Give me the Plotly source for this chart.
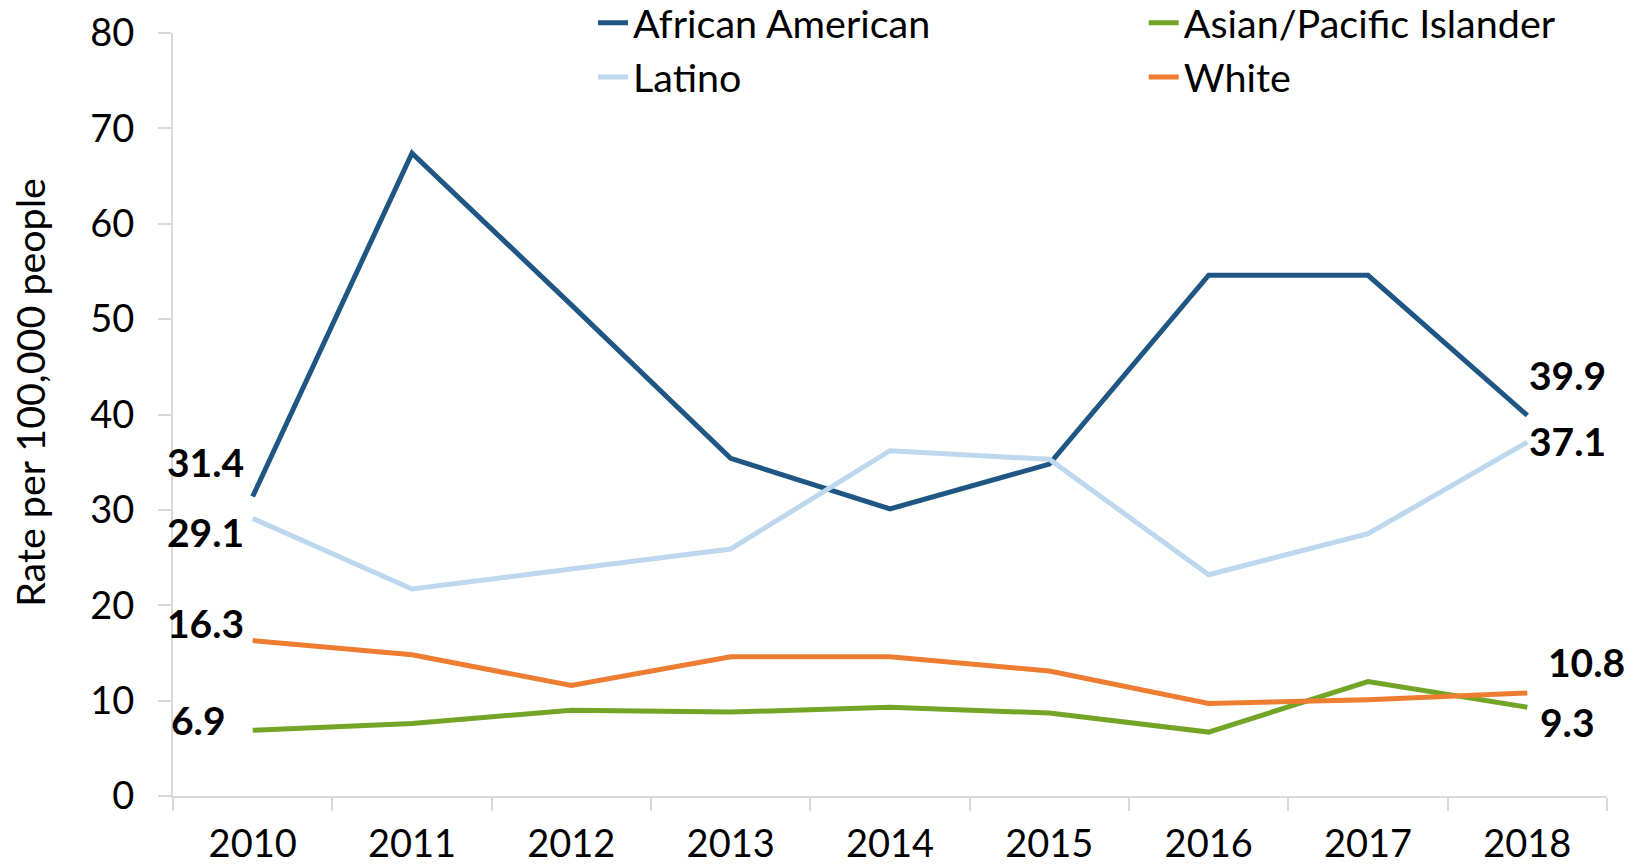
import plotly.graph_objects as go

years = ["2010", "2011", "2012", "2013", "2014", "2015", "2016", "2017", "2018"]
african_american = [31.4, 67.4, 51.5, 35.4, 30.1, 34.8, 54.6, 54.6, 39.9]
asian_pi = [6.9, 7.6, 9.0, 8.8, 9.3, 8.7, 6.7, 12.0, 9.3]
latino = [29.1, 21.7, 23.8, 25.9, 36.2, 35.3, 23.2, 27.5, 37.1]
white = [16.3, 14.8, 11.6, 14.6, 14.6, 13.1, 9.7, 10.1, 10.8]

series = [
    ("African American", african_american, "#1F5683", "legend"),
    ("Asian/Pacific Islander", asian_pi, "#72A526", "legend2"),
    ("Latino", latino, "#BDD7EE", "legend"),
    ("White", white, "#ED7D31", "legend2"),
]

FONT = "Lato, Carlito, Calibri, sans-serif"

fig = go.Figure()
for name, vals, color, leg in series:
    fig.add_trace(go.Scatter(x=years, y=vals, name=name, mode="lines",
                             legend=leg, legendgroup=name,
                             line=dict(color=color, width=5)))

# end-point labels: (series values, index, xshift, yshift)
labels = [
    (african_american, 0, -47, 35),
    (latino, 0, -47, -14),
    (white, 0, -47, 18),
    (asian_pi, 0, -54, 10),
    (african_american, 8, 40, 40),
    (latino, 8, 40, 1),
    (white, 8, 59, 31),
    (asian_pi, 8, 40, -15),
]
for vals, i, dx, dy in labels:
    fig.add_annotation(x=i, y=vals[i], text=f"<b>{vals[i]:.1f}</b>",
                       showarrow=False, xshift=dx, yshift=dy,
                       font=dict(family=FONT, size=39, color="black"))

# geometry (figure coordinates)
L, R, T, B = 164.8, 42.5, 24.5, 79
PW = 1642 - L - R
PH = 867 - T - B

# y-axis title
fig.add_annotation(xref="paper", yref="paper", x=(21 - L) / PW, y=0.5288,
                   xanchor="center", yanchor="middle",
                   text="Rate per 100,000 people", textangle=-90, showarrow=False,
                   font=dict(family=FONT, size=39.4, color="black"))

leg_common = dict(orientation="v", xref="paper", yref="paper",
                  xanchor="left", yanchor="top", y=1 + (T + 18) / PH,
                  font=dict(family=FONT, size=39.5), traceorder="normal",
                  bgcolor="rgba(0,0,0,0)", tracegroupgap=4)

fig.update_layout(
    width=1642, height=867,
    margin=dict(l=L, r=R, t=T, b=B, autoexpand=False),
    paper_bgcolor="white", plot_bgcolor="white",
    font=dict(family=FONT, size=38, color="black"),
    showlegend=True,
    legend=dict(x=(585 - L) / PW, **leg_common),
    legend2=dict(x=(1136 - L) / PW, **leg_common),
    xaxis=dict(type="category", range=[-0.5, 8.5], showgrid=False, showline=True,
               linecolor="#D9D9D9", linewidth=2, ticks="outside", tickson="boundaries",
               ticklen=13, tickcolor="#D9D9D9", tickwidth=2, tickfont=dict(size=38),
               tickangle=0, ticklabelstandoff=13, automargin=False),
    yaxis=dict(range=[0, 80], dtick=10, showgrid=False, zeroline=False, showline=True,
               linecolor="#D9D9D9", linewidth=2, ticks="outside", ticklen=13,
               tickcolor="#D9D9D9", tickwidth=2, tickfont=dict(size=38),
               ticklabelstandoff=16, automargin=False),
)

fig.write_html("out.html")
